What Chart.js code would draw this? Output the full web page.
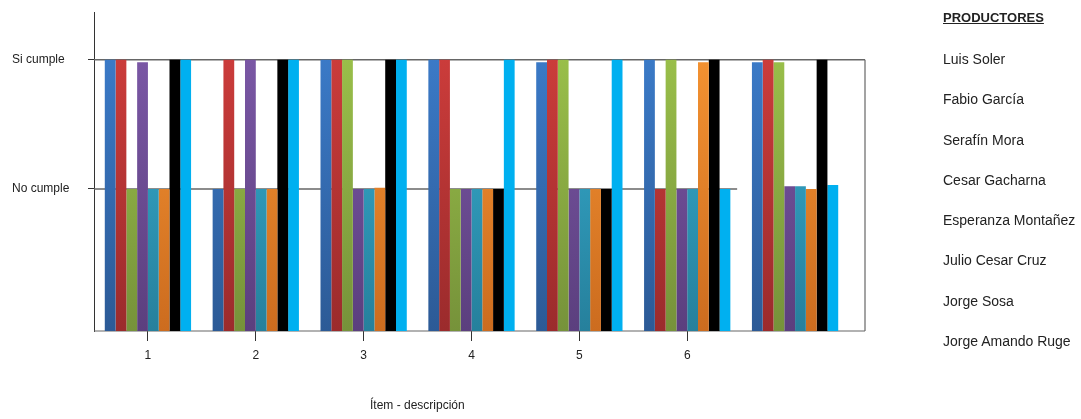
<!DOCTYPE html>
<html>
<head>
<meta charset="utf-8">
<script src="https://cdn.jsdelivr.net/npm/chart.js@4.4.1/dist/chart.umd.min.js"></script>
<style>
  html, body { margin: 0; padding: 0; background: #fff; }
  #wrap { position: relative; width: 1081px; height: 419px; }
  #legend { position: absolute; left: 943px; top: 0; font-family: 'Liberation Sans', Arial, sans-serif; color: #222; }
  #legend .title { position: absolute; top: 8px; left: 0; line-height: 20px; font-size: 13px; font-weight: bold; text-decoration: underline; white-space: nowrap; }
  #legend ul { position: absolute; top: 39px; left: 0; margin: 0; padding: 0; list-style: none; }
  #legend li { line-height: 40.3px; font-size: 14px; white-space: nowrap; }
  #xtitle { position: absolute; left: 370px; top: 398px; font-family: 'Liberation Sans', Arial, sans-serif; font-size: 12px; color: #222; white-space: nowrap; }
</style>
</head>
<body>
<div id="wrap">
  <canvas id="chart" width="1081" height="419"></canvas>
  <div id="legend"></div>
  <div id="xtitle"></div>
</div>
<script>
// 2 = Si cumple, 1 = No cumple
const categories = ['1', '2', '3', '4', '5', '6', ''];
const seriesNames = ['Luis Soler', 'Fabio García', 'Serafín Mora', 'Cesar Gacharna',
    'Esperanza Montañez', 'Julio Cesar Cruz', 'Jorge Sosa', 'Jorge Amando Ruge'];

const luisSoler        = [2, 1, 2, 2, 1.98, 2, 1.98];
const fabioGarcia      = [2, 2, 2, 2, 2, 1, 2];
const serafinMora      = [1, 1, 2, 1, 2, 2, 1.98];
const cesarGacharna    = [1.98, 2, 1, 1, 1, 1, 1.02];
const esperanzaMontanez = [1, 1, 1, 1, 1, 1, 1.02];
const julioCesarCruz   = [1, 1, 1.01, 1, 1, 1.98, 1];
const jorgeSosa        = [2, 2, 2, 1, 1, 2, 2];
const jorgeAmandoRuge  = [2, 2, 2, 2, 2, 1, 1.03];

const yTickValues = [1, 2];
const yTickLabels = ['No cumple', 'Si cumple'];
const xTitle = 'Ítem - descripción';
const legendTitle = 'PRODUCTORES';

const seriesValues = [luisSoler, fabioGarcia, serafinMora, cesarGacharna,
    esperanzaMontanez, julioCesarCruz, jorgeSosa, jorgeAmandoRuge];

const topColors = ['#3d7fcf', '#d33f3d', '#9fc64c', '#7f5bab', '#39b4d8', '#fa9834', '#000000', '#00b0f0'];
const bottomColors = ['#2c5a96', '#9b2b2c', '#76923a', '#5b3f7e', '#26809c', '#cc6c1f', '#000000', '#00b0f0'];

function barFill(top, bottom) {
    return (ctx) => {
        const area = ctx.chart.chartArea;
        if (!area) return top;
        const g = ctx.chart.ctx.createLinearGradient(0, area.top, 0, area.bottom);
        g.addColorStop(0, top);
        g.addColorStop(1, bottom);
        return g;
    };
}

// frame + the two reference lines, drawn behind the bars
const framePlugin = {
    id: 'frame',
    beforeDatasetsDraw(chart) {
        const { ctx, chartArea: a, scales: { x, y } } = chart;
        const right = a.right + 16;
        const ySi = y.getPixelForValue(2);
        const yNo = y.getPixelForValue(1);
        const noEnd = (x.getPixelForValue(5) + x.getPixelForValue(6)) / 2 - 4;
        const line = (x1, y1, x2, y2) => {
            ctx.beginPath();
            ctx.moveTo(x1, y1);
            ctx.lineTo(x2, y2);
            ctx.stroke();
        };
        ctx.save();
        ctx.strokeStyle = '#666';
        ctx.lineWidth = 1.5;
        line(a.left, ySi, right, ySi);
        line(a.left, yNo, noEnd, yNo);
        ctx.lineWidth = 1.2;
        line(right, ySi, right, a.bottom);
        line(a.left, a.bottom, right, a.bottom);
        ctx.restore();
    }
};

function buildLegend() {
    const el = document.getElementById('legend');
    const title = document.createElement('div');
    title.className = 'title';
    title.textContent = legendTitle;
    el.appendChild(title);
    const ul = document.createElement('ul');
    seriesNames.forEach(name => {
        const li = document.createElement('li');
        li.textContent = name;
        ul.appendChild(li);
    });
    el.appendChild(ul);
    document.getElementById('xtitle').textContent = xTitle;
}

function initChart() {
    new Chart(document.getElementById('chart').getContext('2d'), {
        type: 'bar',
        data: {
            labels: categories,
            datasets: seriesNames.map((name, i) => ({
                label: name,
                data: seriesValues[i],
                backgroundColor: barFill(topColors[i], bottomColors[i]),
                borderWidth: 0,
                base: -0.1,
                categoryPercentage: 0.8,
                barPercentage: 1.0
            }))
        },
        options: {
            responsive: false,
            animation: false,
            layout: { padding: { left: 12, top: 12, right: 232, bottom: 0 } },
            plugins: {
                legend: { display: false },
                tooltip: { enabled: false }
            },
            scales: {
                x: {
                    afterFit: (scale) => { scale.height = 88; },
                    border: { display: false },
                    grid: {
                        offset: false,
                        drawOnChartArea: false,
                        tickLength: 10,
                        color: (ctx) => ctx.index === 6 ? 'rgba(0,0,0,0)' : '#333'
                    },
                    ticks: {
                        padding: 7,
                        maxRotation: 0,
                        color: '#222',
                        font: { family: 'Liberation Sans', size: 12 }
                    }
                },
                y: {
                    min: -0.1,
                    max: 2.37,
                    afterFit: (scale) => { scale.width = 82; },
                    afterBuildTicks: (axis) => {
                        axis.ticks = yTickValues.map(v => ({ value: v }));
                    },
                    border: { display: true, color: '#333', width: 1 },
                    grid: {
                        drawOnChartArea: false,
                        tickLength: 6,
                        color: '#333'
                    },
                    ticks: {
                        crossAlign: 'far',
                        color: '#222',
                        font: { family: 'Liberation Sans', size: 12 },
                        callback: (v) => yTickLabels[yTickValues.indexOf(v)]
                    }
                }
            }
        },
        plugins: [framePlugin]
    });
}

buildLegend();
initChart();
</script>
</body>
</html>
